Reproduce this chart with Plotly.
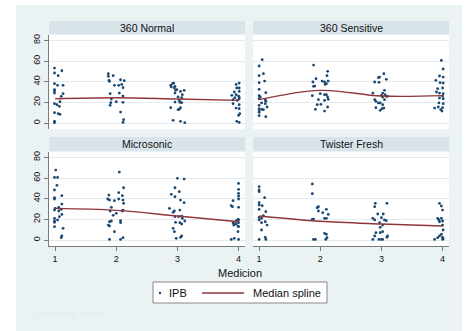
import plotly.graph_objects as go

W, H = 469, 331

panel_titles = ["360 Normal", "360 Sensitive", "Microsonic", "Twister Fresh"]
y_ticks = [0, 20, 40, 60, 80]
x_ticks = [1, 2, 3, 4]
spline_x = [1, 2, 3, 4]

# ---- 360 Normal (jittered Medicion, IPB)
normal_x = [0.99, 0.99, 1.11, 1.05, 0.99, 1.04, 1.13, 0.99, 0.99, 0.99, 1.13, 1.10, 1.08, 0.99, 1.03, 1.07, 0.99, 1.05, 1.08, 0.99, 0.99,
            1.87, 1.87, 1.95, 1.88, 1.89, 2.07, 2.13, 1.97, 2.04, 2.09, 2.11, 1.90, 2.05, 2.11, 1.92, 1.91, 2.00, 2.11, 1.90, 2.07, 2.12, 2.11,
            2.92, 2.94, 2.89, 2.90, 2.96, 2.95, 2.99, 2.97, 2.96, 3.05, 3.11, 3.08, 3.01, 3.07, 3.03, 3.04, 3.07, 2.96, 2.89, 3.03, 3.05, 3.01, 2.93, 3.05, 3.12,
            4.01, 3.96, 4.01, 3.97, 3.93, 4.01, 3.96, 4.00, 3.89, 4.01, 3.94, 3.91, 4.01, 3.98, 3.91, 4.01, 3.96, 4.01, 4.02, 4.00, 3.97, 4.01]
normal_y = [53.2, 48.4, 50.6, 45.8, 38.1, 36.5, 36.5, 32.3, 31.0, 29.0, 28.4, 25.8, 20.6, 18.7, 17.7, 16.1, 10.0, 9.0, 8.4, 1.6, 0.3,
            47.7, 45.2, 45.8, 41.3, 40.3, 41.9, 41.0, 36.5, 36.5, 37.4, 34.2, 28.4, 29.0, 26.1, 23.2, 19.7, 20.6, 20.0, 17.1, 10.6, 3.2, 0.6,
            38.1, 38.7, 36.5, 34.8, 35.5, 33.9, 32.3, 31.6, 29.0, 30.6, 31.6, 27.4, 25.2, 24.5, 21.9, 20.0, 19.7, 20.3, 14.8, 13.2, 14.8, 12.9, 2.6, 1.6, 0.3,
            38.7, 37.4, 33.9, 33.9, 30.0, 30.6, 27.4, 26.1, 26.8, 25.2, 24.5, 22.6, 23.5, 21.9, 18.7, 17.7, 14.5, 13.9, 9.0, 7.4, 1.6, 0.6]
normal_spline = [23.5, 24.5, 23.2, 21.9]

# ---- 360 Sensitive
sensitive_x = [1.05, 1.00, 1.07, 1.00, 1.09, 1.00, 1.00, 1.11, 1.00, 1.02, 1.00, 1.10, 1.11, 1.04, 1.10, 1.00, 1.13, 1.00, 1.04, 1.07, 1.00, 1.00, 1.00, 1.11,
               1.89, 2.12, 1.93, 2.11, 1.88, 1.91, 1.89, 2.03, 2.07, 2.10, 2.13, 2.08, 2.00, 2.07, 2.10, 1.87, 2.12, 1.97, 2.07, 2.13, 1.95, 2.01, 2.12, 1.92, 2.07,
               3.04, 2.97, 2.95, 3.08, 2.89, 2.96, 3.05, 3.02, 2.86, 3.06, 3.00, 3.08, 3.02, 3.10, 2.89, 2.91, 2.95, 2.98, 3.05, 3.02, 2.91, 3.01, 2.98, 3.04,
               3.98, 4.01, 3.95, 4.01, 3.89, 3.96, 4.01, 3.92, 4.00, 3.90, 3.95, 4.01, 4.00, 3.95, 4.01, 3.94, 4.01, 3.87, 3.93, 4.00, 3.97, 3.99]
sensitive_y = [61.3, 55.2, 47.7, 45.8, 40.6, 39.0, 32.6, 29.4, 26.5, 25.2, 23.5, 22.6, 21.0, 19.4, 18.7, 17.1, 15.5, 13.9, 13.2, 12.9, 11.6, 10.3, 7.1, 6.1,
               56.1, 50.0, 42.9, 45.8, 39.7, 35.8, 35.5, 40.6, 39.7, 38.1, 40.6, 37.4, 28.4, 27.4, 27.4, 26.5, 25.2, 22.6, 21.9, 22.9, 17.7, 18.1, 15.5, 13.2, 11.6,
               47.7, 44.5, 43.9, 42.3, 39.7, 39.4, 31.6, 29.0, 29.0, 27.4, 26.8, 25.8, 25.2, 25.8, 22.6, 21.0, 19.4, 19.4, 22.6, 17.7, 14.8, 13.9, 12.3, 14.5,
               60.6, 52.3, 45.5, 44.5, 41.3, 39.0, 38.7, 33.2, 33.9, 30.0, 29.0, 28.4, 26.1, 24.2, 23.5, 19.4, 18.7, 14.5, 15.5, 14.8, 12.9, 11.6]
sensitive_spline = [22.6, 31.6, 26.1, 26.5]

# ---- Microsonic
micro_x = [1.01, 0.99, 1.04, 1.03, 0.99, 0.99, 0.99, 1.11, 1.06, 1.11, 1.10, 1.00, 0.99, 1.06, 1.11, 0.99, 1.04, 1.07, 0.99, 0.99, 0.99, 1.13, 1.11, 1.10,
           2.05, 2.12, 1.88, 2.04, 2.10, 1.86, 1.89, 1.97, 2.04, 2.11, 2.12, 1.92, 2.11, 2.10, 1.90, 2.00, 1.95, 1.92, 1.89, 2.07, 2.07, 1.87, 1.89, 1.97, 1.89, 2.07, 2.11,
           3.00, 3.11, 2.96, 3.03, 2.90, 2.96, 3.05, 3.11, 2.87, 2.95, 2.93, 3.04, 2.96, 3.02, 3.07, 3.08, 3.12, 2.97, 3.04, 3.07, 2.93, 2.95, 3.07, 3.05, 2.98,
           4.00, 4.00, 4.00, 4.00, 4.00, 3.91, 3.88, 3.90, 4.00, 3.99, 4.00, 3.96, 3.91, 3.93, 3.96, 4.00, 4.00, 3.99, 3.93, 3.88, 4.00, 3.99, 3.92]
micro_y = [67.7, 60.6, 60.6, 52.9, 48.4, 41.0, 39.7, 42.9, 31.6, 34.8, 29.7, 30.6, 29.0, 28.1, 24.8, 21.0, 19.4, 22.6, 18.4, 17.1, 12.9, 11.3, 3.9, 2.3,
           65.8, 50.6, 43.5, 45.8, 42.9, 39.7, 38.7, 38.1, 39.7, 38.7, 35.5, 31.6, 29.0, 28.1, 28.1, 25.8, 23.9, 18.4, 17.7, 18.7, 16.8, 14.5, 13.5, 8.1, 0.6, 0.6, 2.3,
           59.7, 59.0, 50.6, 46.8, 44.2, 41.9, 38.7, 36.1, 30.6, 28.1, 26.8, 29.0, 22.6, 22.6, 23.2, 21.0, 18.4, 17.1, 16.8, 15.5, 11.3, 8.1, 3.9, 2.6, 1.6,
           54.8, 49.0, 45.2, 42.6, 39.7, 38.1, 33.2, 32.3, 31.6, 20.0, 19.4, 18.4, 16.8, 15.5, 15.5, 16.8, 12.9, 8.1, 1.6, 0.6, 0.6, 13.5, 14.5]
micro_spline = [30.6, 28.7, 23.2, 17.7]

# ---- Twister Fresh
twister_x = [1.00, 1.00, 1.00, 1.09, 1.00, 1.00, 1.05, 1.00, 1.11, 1.07, 1.00, 1.04, 1.00, 1.10, 1.04, 1.13, 1.04, 1.10, 1.11, 1.00,
             1.87, 1.87, 1.97, 1.95, 2.10, 1.97, 2.13, 2.04, 2.07, 2.10, 1.89, 2.07, 2.10, 2.11, 2.09, 1.89, 1.92, 1.87,
             2.90, 2.89, 3.09, 2.94, 3.03, 2.86, 2.89, 3.00, 3.05, 3.08, 2.97, 3.02, 2.98, 2.91, 2.98, 3.02, 2.89, 3.09, 3.10, 2.86, 2.96, 3.00, 3.02,
             3.95, 3.98, 4.00, 3.92, 3.94, 3.98, 3.95, 4.00, 4.00, 4.01, 3.98, 3.95, 4.00, 4.01, 4.00, 3.87, 3.92]
twister_y = [51.6, 48.4, 46.8, 41.0, 36.1, 33.9, 33.2, 29.7, 27.4, 23.5, 21.9, 21.0, 19.4, 17.7, 16.8, 14.5, 9.7, 2.6, 0.6, 0.6,
             54.2, 44.8, 32.3, 31.3, 29.7, 28.1, 24.8, 26.5, 21.0, 21.0, 20.3, 6.5, 5.5, 2.3, 0.6, 0.6, 0.6, 20.0,
             35.5, 32.3, 35.5, 25.2, 25.2, 21.0, 19.4, 21.6, 19.4, 18.7, 16.8, 14.5, 12.3, 7.1, 7.1, 8.1, 3.9, 2.6, 3.9, 0.6, 0.6, 0.6, 0.6,
             35.5, 32.9, 29.0, 21.0, 19.4, 21.0, 17.7, 18.4, 14.5, 9.7, 5.5, 3.9, 2.6, 1.3, 0.6, 0.6, 2.3]
twister_spline = [23.2, 18.1, 15.5, 13.5]

series = [(normal_x, normal_y, normal_spline),
          (sensitive_x, sensitive_y, sensitive_spline),
          (micro_x, micro_y, micro_spline),
          (twister_x, twister_y, twister_spline)]

FONT = "Liberation Sans, Arial, sans-serif"
BG = "#eaf2f3"
STRIP = "#d9e4ea"
GRID = "#e3ebee"
DOT = "#1a476f"
LINE = "#90353b"
AXIS = "#7a7a7a"

pan_x = [(49, 245), (253, 449), (49, 245), (253, 449)]
pan_y = [(35, 129), (35, 129), (152, 246), (152, 246)]
strip_y = [(21, 34), (21, 34), (137, 151), (137, 151)]

def fx(p):
    return p / W

def fy(p):
    return 1 - p / H

fig = go.Figure()
layout = dict(
    width=W, height=H, margin=dict(l=0, r=0, t=0, b=0),
    paper_bgcolor=BG, plot_bgcolor="white", showlegend=False,
    font=dict(family=FONT, color="#111", size=9),
)
shapes = [
    dict(type="rect", xref="paper", yref="paper", x0=0, x1=fx(16), y0=0, y1=1, fillcolor="white", line_width=0, layer="below"),
    dict(type="rect", xref="paper", yref="paper", x0=0, x1=1, y0=fy(5), y1=1, fillcolor="white", line_width=0, layer="below"),
    dict(type="rect", xref="paper", yref="paper", x0=fx(462), x1=1, y0=0, y1=1, fillcolor="white", line_width=0, layer="below"),
]
annotations = []

for i, (xs, ys, sp) in enumerate(series):
    n = "" if i == 0 else str(i + 1)
    xa, ya = "x" + n, "y" + n
    fig.add_trace(go.Scatter(x=xs, y=ys, mode="markers", xaxis=xa, yaxis=ya,
                             marker=dict(size=2.8, color=DOT, line_width=0), hoverinfo="skip"))
    fig.add_trace(go.Scatter(x=spline_x, y=sp, mode="lines", xaxis=xa, yaxis=ya,
                             line=dict(color=LINE, width=1.4, shape="spline", smoothing=1), hoverinfo="skip"))
    bottom = i >= 2
    left = i % 2 == 0
    layout["xaxis" + n] = dict(
        domain=[fx(pan_x[i][0]), fx(pan_x[i][1])], anchor=ya, range=[0.9, 4.105],
        tickvals=x_ticks, showgrid=False, zeroline=False,
        showline=bottom, linecolor=AXIS, linewidth=1,
        ticks="outside" if bottom else "", ticklen=4, tickcolor=AXIS,
        showticklabels=bottom, tickfont=dict(size=9, color="#111"),
    )
    layout["yaxis" + n] = dict(
        domain=[fy(pan_y[i][1]), fy(pan_y[i][0])], anchor=xa, range=[-5.8, 85.2],
        tickvals=y_ticks, showgrid=True, gridcolor=GRID, gridwidth=1, zeroline=False,
        showline=left, linecolor=AXIS, linewidth=1,
        ticks="outside" if left else "", ticklen=4, tickcolor=AXIS,
        showticklabels=left, tickangle=-90, tickfont=dict(size=9, color="#111"),
    )
    shapes.append(dict(type="rect", xref="paper", yref="paper",
                       x0=fx(pan_x[i][0]), x1=fx(pan_x[i][1]),
                       y0=fy(strip_y[i][1]), y1=fy(strip_y[i][0]),
                       fillcolor=STRIP, line_width=0, layer="below"))
    annotations.append(dict(text=panel_titles[i], xref="paper", yref="paper",
                            x=fx((pan_x[i][0] + pan_x[i][1]) / 2), y=fy((strip_y[i][0] + strip_y[i][1]) / 2),
                            xanchor="center", yanchor="middle", showarrow=False,
                            font=dict(size=10.5, color="#111")))

# x-axis title
annotations.append(dict(text="Medicion", xref="paper", yref="paper", x=fx(240), y=fy(273),
                        xanchor="center", yanchor="middle", showarrow=False, font=dict(size=11, color="#111")))

# legend
shapes.append(dict(type="rect", xref="paper", yref="paper", x0=fx(153), x1=fx(327), y0=fy(303), y1=fy(282),
                   fillcolor="white", line=dict(color="#888", width=1)))
shapes.append(dict(type="circle", xref="paper", yref="paper", x0=fx(158.8), x1=fx(161.2), y0=fy(294.2), y1=fy(291.8),
                   fillcolor=DOT, line_width=0))
shapes.append(dict(type="line", xref="paper", yref="paper", x0=fx(202), x1=fx(244), y0=fy(293), y1=fy(293),
                   line=dict(color=LINE, width=1.4)))
annotations.append(dict(text="IPB", xref="paper", yref="paper", x=fx(167), y=fy(293), xanchor="left", yanchor="middle",
                        showarrow=False, font=dict(size=11, color="#111")))
annotations.append(dict(text="Median spline", xref="paper", yref="paper", x=fx(251), y=fy(293), xanchor="left",
                        yanchor="middle", showarrow=False, font=dict(size=11, color="#111")))
# faint note
annotations.append(dict(text="Graphs by Marca", xref="paper", yref="paper", x=fx(31), y=fy(313), xanchor="left",
                        yanchor="middle", showarrow=False, font=dict(size=9.5, color="#e4edef")))

layout["shapes"] = shapes
layout["annotations"] = annotations
fig.update_layout(**layout)
fig.write_html("out.html")
